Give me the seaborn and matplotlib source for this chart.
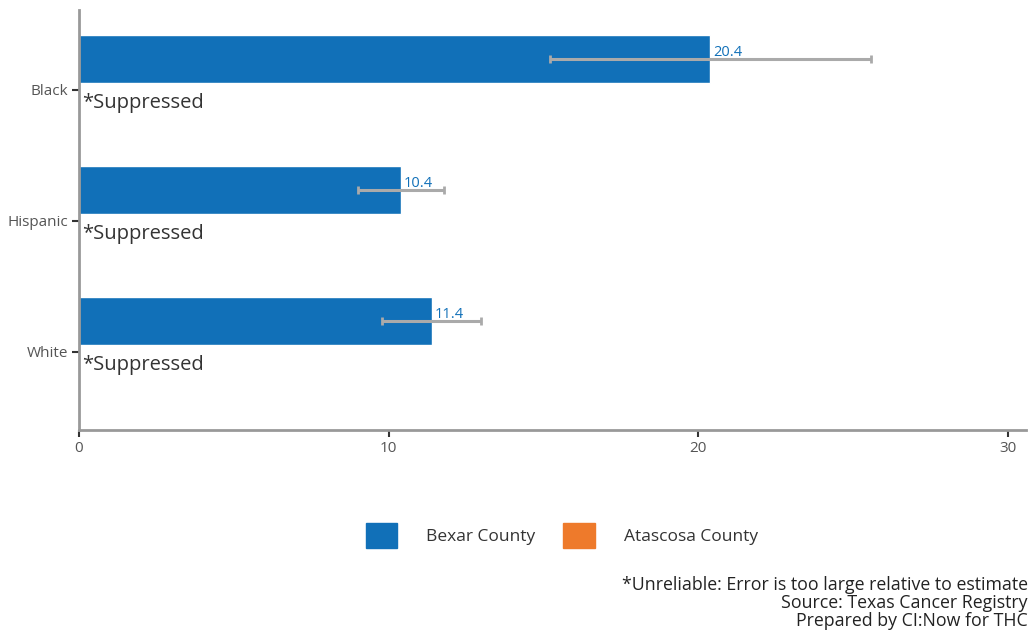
import pandas as pd
import numpy as np
import seaborn as sns
import matplotlib.pyplot as plt
from matplotlib.patches import Patch

# Data
groups = ['Black', 'Hispanic', 'White']
counties = ['Bexar County', 'Atascosa County']
bexar_rate = [20.4, 10.4, 11.4]
bexar_low = [15.2, 9.0, 9.8]
bexar_high = [25.6, 11.8, 13.0]
atascosa_rate = [0, 0, 0]  # suppressed
atascosa_note = ['*Suppressed', '*Suppressed', '*Suppressed']
colors = ['#1170B8', '#EE7A2B']
caption = ('*Unreliable: Error is too large relative to estimate\n'
           'Source: Texas Cancer Registry\n'
           'Prepared by CI:Now for THC')

df = pd.DataFrame({
    'Group': groups * 2,
    'County': [counties[0]] * 3 + [counties[1]] * 3,
    'Rate': bexar_rate + atascosa_rate,
})

sns.set_style('white')
plt.rcParams['font.family'] = ['Open Sans', 'DejaVu Sans']

fig = plt.figure(figsize=(10.31, 6.32), dpi=100)
ax = fig.add_axes([0.0766, 0.3196, 0.9188, 0.6646])

sns.barplot(data=df, y='Group', x='Rate', hue='County', order=groups,
            hue_order=counties, palette=colors, orient='h', width=0.73,
            saturation=1, errorbar=None, legend=False, ax=ax)

# Error bars and value labels on the Bexar bars
bexar_bars = ax.containers[0]
ys = [p.get_y() + p.get_height() / 2 for p in bexar_bars]
lo = np.array(bexar_rate) - np.array(bexar_low)
hi = np.array(bexar_high) - np.array(bexar_rate)
ax.errorbar(bexar_rate, ys, xerr=[lo, hi], fmt='none', ecolor='#aaaaaa',
            elinewidth=2.2, capsize=3, capthick=2, zorder=4)
for y, v in zip(ys, bexar_rate):
    ax.text(v + 0.1, y + 0.005, f'{v}', color=colors[0], fontsize=10.5,
            ha='left', va='bottom', zorder=5)

# Suppressed notes where the Atascosa bars would be
atas_bars = ax.containers[1]
for p, note in zip(atas_bars, atascosa_note):
    ax.text(0.1, p.get_y() + p.get_height() / 2 - 0.03, note,
            color='#333333', fontsize=14.5, ha='left', va='center')

ax.set_xlim(0, 30.6)
ax.set_ylim(2.649, -0.557)
ax.set_xticks([0, 10, 20, 30])
ax.set_yticks(np.arange(len(groups)) + 0.05, groups)
ax.set_xlabel('')
ax.set_ylabel('')
sns.despine(ax=ax)
for s in ['left', 'bottom']:
    ax.spines[s].set_color('#999999')
    ax.spines[s].set_linewidth(2)
ax.tick_params(axis='both', bottom=True, left=True, colors='#333333',
               labelcolor='#555555', labelsize=11, length=5, width=1.5,
               direction='out', pad=3)

# Legend below the plot
handles = [Patch(facecolor=c, edgecolor=c) for c in colors]
fig.legend(handles, counties, loc='center', bbox_to_anchor=(0.545, 0.153),
           ncol=2, frameon=False, fontsize=12.5, handlelength=1.8,
           handleheight=1.8, handletextpad=1.7, columnspacing=1.6,
           labelcolor='#333333')

fig.text(0.997, 0.003, caption, ha='right', va='bottom', fontsize=12.8,
         color='#222222', linespacing=1.0)

fig.savefig('out.png', dpi=100)
